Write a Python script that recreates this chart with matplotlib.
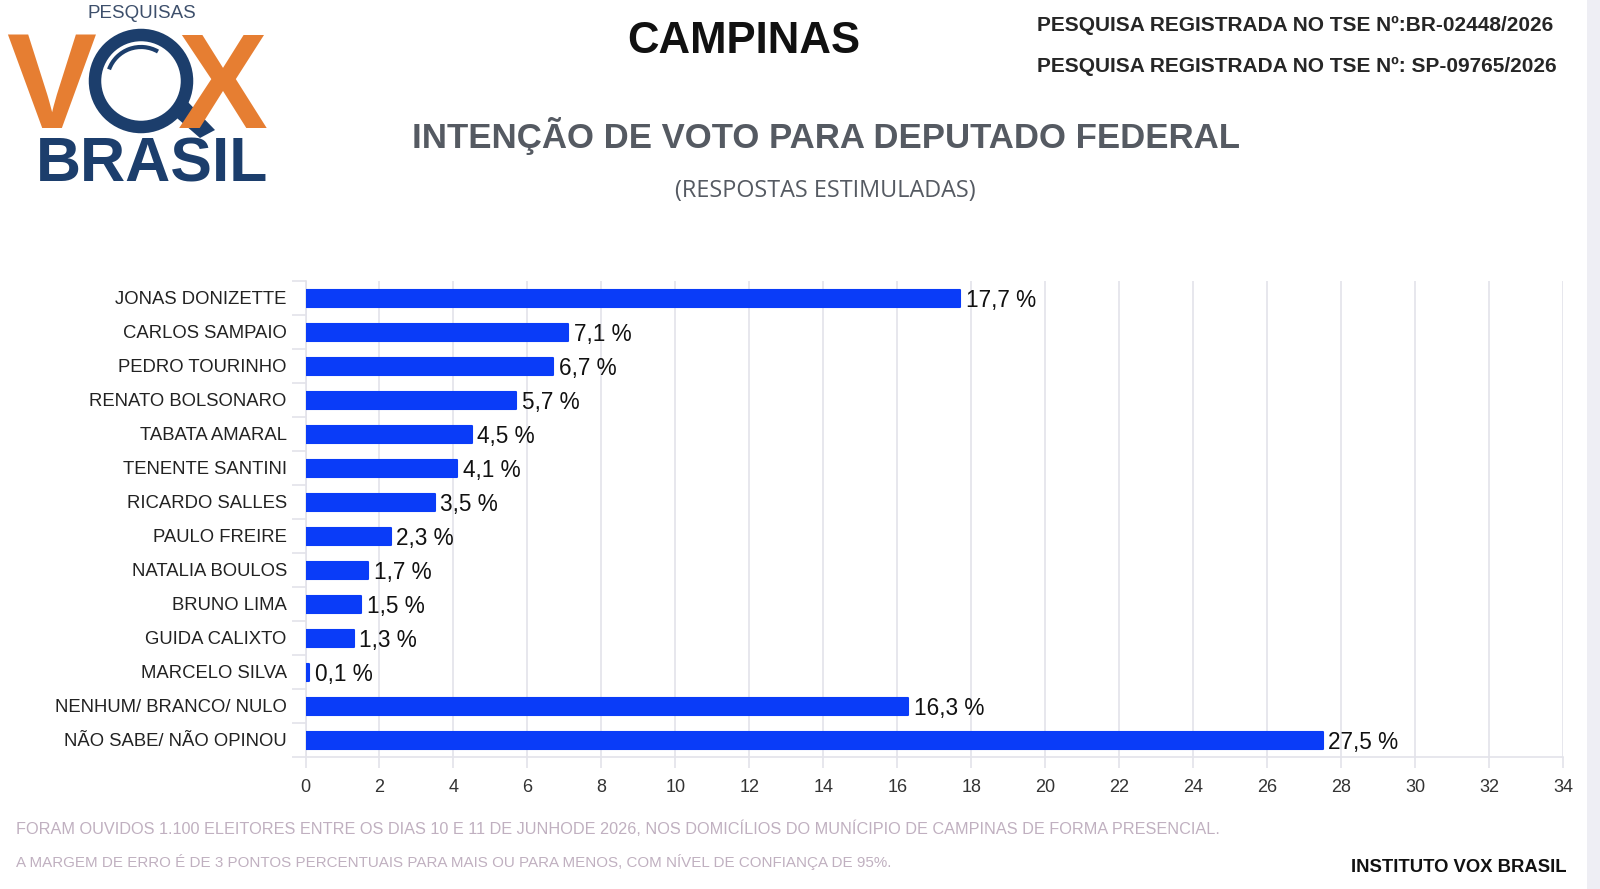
import matplotlib
matplotlib.use("Agg")
import matplotlib.pyplot as plt
from matplotlib.patches import Circle, Rectangle, Arc, Polygon

# ── dados ──
candidatos = [
    "JONAS DONIZETTE", "CARLOS SAMPAIO", "PEDRO TOURINHO", "RENATO BOLSONARO",
    "TABATA AMARAL", "TENENTE SANTINI", "RICARDO SALLES", "PAULO FREIRE",
    "NATALIA BOULOS", "BRUNO LIMA", "GUIDA CALIXTO", "MARCELO SILVA",
    "NENHUM/ BRANCO/ NULO", "NÃO SABE/ NÃO OPINOU",
]
percentuais = [17.7, 7.1, 6.7, 5.7, 4.5, 4.1, 3.5, 2.3, 1.7, 1.5, 1.3, 0.1, 16.3, 27.5]
x_ticks = list(range(0, 35, 2))

titulo = "CAMPINAS"
subtitulo = "INTENÇÃO DE VOTO PARA DEPUTADO FEDERAL"
subtitulo2 = "(RESPOSTAS ESTIMULADAS)"
registros = ["PESQUISA REGISTRADA NO TSE Nº:BR-02448/2026",
             "PESQUISA REGISTRADA NO TSE Nº: SP-09765/2026"]
rodape = ["FORAM OUVIDOS 1.100 ELEITORES ENTRE OS DIAS 10 E 11 DE JUNHODE 2026, NOS DOMICÍLIOS DO MUNÍCIPIO DE CAMPINAS DE FORMA PRESENCIAL.",
          "A MARGEM DE ERRO É DE 3 PONTOS PERCENTUAIS PARA MAIS OU PARA MENOS, COM NÍVEL DE CONFIANÇA DE 95%."]
instituto = "INSTITUTO VOX BRASIL"

# ── tema ──
AZUL = "#0a3cf8"
LARANJA = "#e67e32"
MARINHO = "#1c3e6c"
GRADE = "#e3e3ea"
FONTE = ["Liberation Sans", "DejaVu Sans"]
plt.rcParams["font.family"] = FONTE

W, H = 1600, 889
fig = plt.figure(figsize=(W / 100, H / 100), dpi=100)
fig.patch.set_facecolor("white")

# camada de fundo em pixels (textos, logo)
bg = fig.add_axes([0, 0, 1, 1])
bg.set_xlim(0, W)
bg.set_ylim(H, 0)
bg.axis("off")
bg.add_patch(Rectangle((1587, 0), W - 1587, H, color="#eeeef4", lw=0))

# ── logo ──
bg.text(142, 14, "PESQUISAS", ha="center", va="center", fontsize=13.5,
        color="#3d4f6b")
bg.text(6, 128, "V", ha="left", va="baseline", fontsize=97, fontweight="bold",
        color=LARANJA)
bg.text(268, 128, "X", ha="right", va="baseline", fontsize=97, fontweight="bold",
        color=LARANJA)
bg.add_patch(Polygon([[170, 112], [186, 100], [215, 130], [200, 138]],
                     closed=True, color=MARINHO, lw=0))
bg.add_patch(Circle((141, 81), 46, facecolor="white", edgecolor=MARINHO, lw=9))
bg.add_patch(Arc((141, 81), 68, 68, theta1=200, theta2=300, color=MARINHO, lw=3))
bg.text(152, 182, "BRASIL", ha="center", va="baseline", fontsize=45,
        fontweight="bold", color=MARINHO)

# ── títulos ──
bg.text(744, 53, titulo, ha="center", va="baseline", fontsize=31.5,
        fontweight="bold", color="#111111")
bg.text(826, 148, subtitulo, ha="center", va="baseline", fontsize=25,
        fontweight="bold", color="#555a62")
bg.text(825, 197, subtitulo2, ha="center", va="baseline", fontsize=16.8,
        color="#555a62", family=["Open Sans", "DejaVu Sans"])
bg.text(1037, 31, registros[0], ha="left", va="baseline", fontsize=15,
        fontweight="bold", color="#262626")
bg.text(1037, 72, registros[1], ha="left", va="baseline", fontsize=15,
        fontweight="bold", color="#262626")

# ── rodapé ──
bg.text(16, 834, rodape[0], ha="left", va="baseline", fontsize=11.7,
        color="#c0b0c0")
bg.text(16, 867, rodape[1], ha="left", va="baseline", fontsize=10.9,
        color="#c0b0c0")
bg.text(1567, 872, instituto, ha="right", va="baseline", fontsize=13.3,
        fontweight="bold", color="#111111")

# ── gráfico ──
ax = fig.add_axes([305.5 / W, 1 - 757 / H, (1563 - 305.5) / W, (757 - 281) / H])
ax.set_facecolor("none")
y = list(range(len(candidatos)))
ax.barh(y, percentuais, height=0.5, color=AZUL, edgecolor=AZUL,
        linewidth=1.5, joinstyle="round", zorder=3)
for yi, v in zip(y, percentuais):
    ax.text(v + 0.15, yi, f"{v:.1f} %".replace(".", ","),
            va="center_baseline", ha="left", fontsize=16.3, color="#111111",
            zorder=4)

ax.set_xlim(0, 34)
ax.set_ylim(len(candidatos) - 0.5, -0.5)
ax.set_xticks(x_ticks)
ax.set_xticklabels([str(t) for t in x_ticks], fontsize=13, color="#333333")
ax.set_yticks(y)
ax.set_yticklabels(candidatos, fontsize=13.3, color="#222222")
ax.set_yticks([i - 0.5 for i in range(len(candidatos) + 1)], minor=True)
ax.tick_params(axis="y", which="major", length=0, pad=13.5)
ax.tick_params(axis="y", which="minor", length=10, color=GRADE, width=1.2)
ax.tick_params(axis="x", length=8, color=GRADE, width=1.2, pad=8)
ax.grid(axis="x", color=GRADE, lw=1.2, zorder=0)
for s in ["top", "right"]:
    ax.spines[s].set_visible(False)
ax.spines["left"].set_color(GRADE)
ax.spines["bottom"].set_color(GRADE)
ax.spines["left"].set_linewidth(1.2)
ax.spines["bottom"].set_linewidth(1.2)

fig.savefig("out.png", dpi=100, facecolor="white")
